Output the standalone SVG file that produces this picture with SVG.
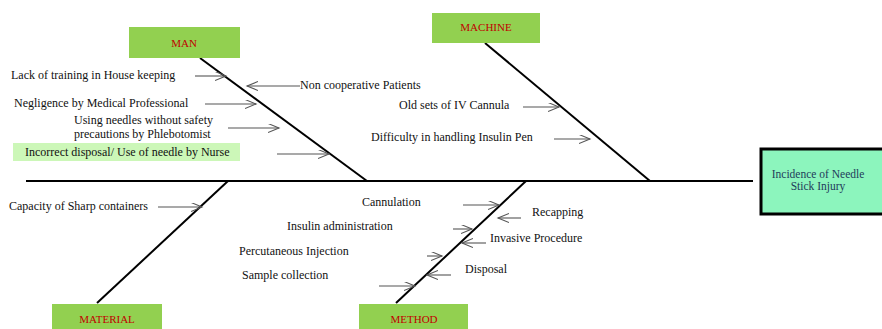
<svg xmlns="http://www.w3.org/2000/svg" width="882" height="329" viewBox="0 0 882 329">
<defs>
<marker id="ah" markerUnits="userSpaceOnUse" markerWidth="14" markerHeight="10" refX="11" refY="4.5" orient="auto">
<path d="M0,0 L11,4.5 L0,9" fill="none" stroke="#555" stroke-width="1.1"/>
</marker>
<style>
.t{font-family:"Liberation Serif","Times New Roman",serif;font-size:12px;fill:#111;}
.cat{font-family:"Liberation Serif","Times New Roman",serif;font-size:11px;fill:#c00000;text-anchor:middle;}
.catbox{fill:#92d050;}
.spine{stroke:#000;stroke-width:2;fill:none;}
.arr{stroke:#555;stroke-width:1.1;fill:none;marker-end:url(#ah);}
</style>
</defs>
<rect width="882" height="329" fill="#fff"/>
<g id="connectors">
<line class="spine" x1="26" y1="181" x2="753" y2="181"/>
<line class="spine" x1="200" y1="58" x2="367" y2="181"/>
<line class="spine" x1="485" y1="43" x2="650" y2="181"/>
<line class="spine" x1="97" y1="303" x2="228" y2="181"/>
<line class="spine" x1="396" y1="303" x2="526" y2="181"/>
<line class="arr" x1="195" y1="76" x2="226" y2="76"/>
<line class="arr" x1="300" y1="86" x2="247" y2="86"/>
<line class="arr" x1="205" y1="104" x2="256" y2="104"/>
<line class="arr" x1="228" y1="128" x2="279" y2="128"/>
<line class="arr" x1="277" y1="154" x2="329" y2="154"/>
<line class="arr" x1="523" y1="107" x2="559" y2="107"/>
<line class="arr" x1="554" y1="139" x2="590" y2="139"/>
<line class="arr" x1="158" y1="207" x2="202" y2="207"/>
<line class="arr" x1="463" y1="205" x2="499" y2="205"/>
<line class="arr" x1="521" y1="218" x2="498" y2="218"/>
<line class="arr" x1="453" y1="229" x2="472" y2="229"/>
<line class="arr" x1="486" y1="243" x2="462" y2="243"/>
<line class="arr" x1="427" y1="256" x2="442" y2="256"/>
<line class="arr" x1="451" y1="275" x2="427" y2="275"/>
<line class="arr" x1="379" y1="286" x2="415" y2="286"/>
</g>
<g id="effect">
<rect x="761" y="149" width="124" height="65" fill="#8cf5bd" stroke="#000" stroke-width="3"/>
<text x="818" y="178" font-family="Liberation Serif, serif" font-size="11.5" fill="#1f3b5a" text-anchor="middle">Incidence of Needle</text>
<text x="818" y="190" font-family="Liberation Serif, serif" font-size="11.5" fill="#1f3b5a" text-anchor="middle">Stick Injury</text>
</g>
<g id="man">
<rect class="catbox" x="129" y="27" width="111" height="31"/>
<text class="cat" x="184" y="47">MAN</text>
</g>
<g id="machine">
<rect class="catbox" x="432" y="13" width="108" height="30"/>
<text class="cat" x="486" y="31">MACHINE</text>
</g>
<g id="material">
<rect class="catbox" x="52" y="304" width="110" height="30"/>
<text class="cat" x="107" y="323">MATERIAL</text>
</g>
<g id="method">
<rect class="catbox" x="359" y="304" width="109" height="30"/>
<text class="cat" x="414" y="323">METHOD</text>
</g>
<g id="cause-lack-training"><text class="t" x="11" y="79">Lack of training in House keeping</text></g>
<g id="cause-non-cooperative"><text class="t" x="300" y="89">Non cooperative Patients</text></g>
<g id="cause-negligence"><text class="t" x="14" y="107">Negligence by Medical Professional</text></g>
<g id="cause-using-needles"><text class="t" x="74" y="124">Using needles without safety</text><text class="t" x="74" y="138">precautions by Phlebotomist</text></g>
<g id="cause-incorrect-disposal"><rect x="13" y="143" width="227" height="18" fill="#ccf7b8"/><text class="t" x="25" y="156">Incorrect disposal/ Use of needle by Nurse</text></g>
<g id="cause-old-sets"><text class="t" x="399" y="109">Old sets of IV Cannula</text></g>
<g id="cause-difficulty"><text class="t" x="371" y="141">Difficulty in handling Insulin Pen</text></g>
<g id="cause-capacity"><text class="t" x="9" y="210">Capacity of Sharp containers</text></g>
<g id="cause-cannulation"><text class="t" x="362" y="206">Cannulation</text></g>
<g id="cause-recapping"><text class="t" x="532" y="216">Recapping</text></g>
<g id="cause-insulin"><text class="t" x="287" y="230">Insulin administration</text></g>
<g id="cause-invasive"><text class="t" x="490" y="242">Invasive Procedure</text></g>
<g id="cause-percutaneous"><text class="t" x="239" y="255">Percutaneous Injection</text></g>
<g id="cause-disposal"><text class="t" x="465" y="273">Disposal</text></g>
<g id="cause-sample"><text class="t" x="242" y="279">Sample collection</text></g>
</svg>
